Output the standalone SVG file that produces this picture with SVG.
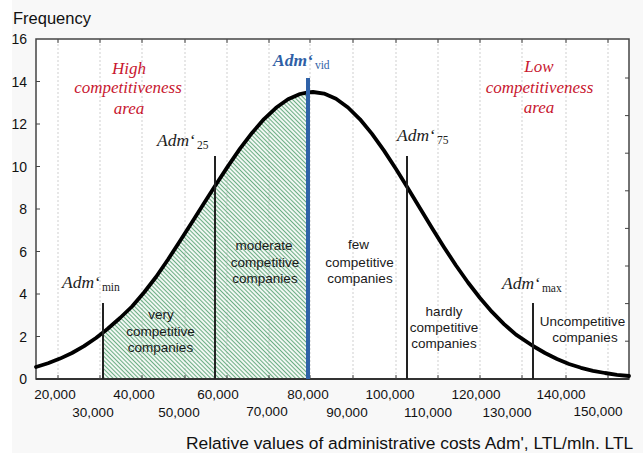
<svg xmlns="http://www.w3.org/2000/svg" width="643" height="453" viewBox="0 0 643 453">
<style>
.ax{font-family:"Liberation Sans",Arial,sans-serif;fill:#111}
.yl{font-size:14px;text-anchor:end}
.xl{font-size:13.5px;text-anchor:middle}
.red{font-family:"Liberation Serif","Times New Roman",serif;font-style:italic;font-size:17px;fill:#c8172f;text-anchor:middle}
.adm{font-family:"Liberation Serif","Times New Roman",serif;font-style:italic;font-size:17.5px;fill:#222}
.sub{font-style:normal;font-size:11.5px}
.comp{font-family:"Liberation Sans",Arial,sans-serif;font-size:13.5px;fill:#1a1a1a;text-anchor:middle}
.grid{stroke:#cfcfcf;stroke-width:1;stroke-dasharray:2 2}
.tick{stroke:#444;stroke-width:1}
.mark{stroke:#222;stroke-width:2}
</style>
<defs>
<pattern id="hatch" patternUnits="userSpaceOnUse" width="6" height="3" patternTransform="rotate(45)">
<line x1="0" y1="1.5" x2="6" y2="1.5" stroke="#6cae84" stroke-width="1.2"/>
</pattern>
</defs>
<rect x="0" y="0" width="643" height="453" fill="#ffffff"/>
<rect x="12" y="0" width="631" height="453" fill="#f8f8f8"/>
<rect x="36" y="39" width="593" height="340" fill="#ffffff"/>
<g id="grid">
<line class="grid" x1="58" y1="40" x2="58" y2="378"/>
<line class="grid" x1="100" y1="40" x2="100" y2="378"/>
<line class="grid" x1="142" y1="40" x2="142" y2="378"/>
<line class="grid" x1="185" y1="40" x2="185" y2="378"/>
<line class="grid" x1="227" y1="40" x2="227" y2="378"/>
<line class="grid" x1="269" y1="40" x2="269" y2="378"/>
<line class="grid" x1="310" y1="40" x2="310" y2="378"/>
<line class="grid" x1="353" y1="40" x2="353" y2="378"/>
<line class="grid" x1="396" y1="40" x2="396" y2="378"/>
<line class="grid" x1="438" y1="40" x2="438" y2="378"/>
<line class="grid" x1="480" y1="40" x2="480" y2="378"/>
<line class="grid" x1="522" y1="40" x2="522" y2="378"/>
<line class="grid" x1="566" y1="40" x2="566" y2="378"/>
<line class="grid" x1="608" y1="40" x2="608" y2="378"/>
</g>
<g id="hatched-area">
<polygon fill="url(#hatch)" points="103,379 103,332.6 108,328.5 120,318 132,306.5 144,292.5 156,277 168,259.5 180,241 192,222.3 204,203.3 215,186 228,166.1 240,148.7 252,132.9 264,119.1 276,107.8 288,99.3 300,94 308,92.3 308,379"/>
</g>
<g id="frame">
<rect x="36" y="39" width="593" height="340" fill="none" stroke="#444" stroke-width="1.5"/>
<line x1="36" y1="379" x2="629" y2="379" stroke="#333" stroke-width="2"/>
<g class="tick">
<line x1="58" y1="39" x2="58" y2="43"/><line x1="100" y1="39" x2="100" y2="43"/><line x1="142" y1="39" x2="142" y2="43"/><line x1="185" y1="39" x2="185" y2="43"/><line x1="227" y1="39" x2="227" y2="43"/><line x1="269" y1="39" x2="269" y2="43"/><line x1="310" y1="39" x2="310" y2="43"/><line x1="353" y1="39" x2="353" y2="43"/><line x1="396" y1="39" x2="396" y2="43"/><line x1="438" y1="39" x2="438" y2="43"/><line x1="480" y1="39" x2="480" y2="43"/><line x1="522" y1="39" x2="522" y2="43"/><line x1="566" y1="39" x2="566" y2="43"/><line x1="608" y1="39" x2="608" y2="43"/>
<line x1="58" y1="379" x2="58" y2="375"/><line x1="100" y1="379" x2="100" y2="375"/><line x1="142" y1="379" x2="142" y2="375"/><line x1="185" y1="379" x2="185" y2="375"/><line x1="227" y1="379" x2="227" y2="375"/><line x1="269" y1="379" x2="269" y2="375"/><line x1="310" y1="379" x2="310" y2="375"/><line x1="353" y1="379" x2="353" y2="375"/><line x1="396" y1="379" x2="396" y2="375"/><line x1="438" y1="379" x2="438" y2="375"/><line x1="480" y1="379" x2="480" y2="375"/><line x1="522" y1="379" x2="522" y2="375"/><line x1="566" y1="379" x2="566" y2="375"/><line x1="608" y1="379" x2="608" y2="375"/>
<line x1="36" y1="81.5" x2="40" y2="81.5"/><line x1="36" y1="124" x2="40" y2="124"/><line x1="36" y1="166.5" x2="40" y2="166.5"/><line x1="36" y1="209" x2="40" y2="209"/><line x1="36" y1="251.5" x2="40" y2="251.5"/><line x1="36" y1="294" x2="40" y2="294"/><line x1="36" y1="336.5" x2="40" y2="336.5"/>
<line x1="629" y1="78" x2="625" y2="78"/><line x1="629" y1="115.6" x2="625" y2="115.6"/><line x1="629" y1="153.2" x2="625" y2="153.2"/><line x1="629" y1="190.8" x2="625" y2="190.8"/><line x1="629" y1="228.4" x2="625" y2="228.4"/><line x1="629" y1="266" x2="625" y2="266"/><line x1="629" y1="303.6" x2="625" y2="303.6"/><line x1="629" y1="341.2" x2="625" y2="341.2"/>
</g>
</g>
<g id="y-axis" class="ax yl">
<text x="27" y="44">16</text>
<text x="27" y="86.5">14</text>
<text x="27" y="129">12</text>
<text x="27" y="171.5">10</text>
<text x="27" y="214">8</text>
<text x="27" y="256.5">6</text>
<text x="27" y="299">4</text>
<text x="27" y="341.5">2</text>
<text x="27" y="384">0</text>
<text x="13" y="23.5" style="font-size:16.5px;text-anchor:start">Frequency</text>
</g>
<g id="x-axis" class="ax xl">
<text x="55" y="399">20,000</text>
<text x="134" y="399">40,000</text>
<text x="218" y="399">60,000</text>
<text x="308" y="399">80,000</text>
<text x="390" y="399">100,000</text>
<text x="476" y="399">120,000</text>
<text x="561" y="399">140,000</text>
<text x="93" y="417">30,000</text>
<text x="179" y="417">50,000</text>
<text x="267" y="416">70,000</text>
<text x="347" y="417">90,000</text>
<text x="428" y="417">110,000</text>
<text x="507" y="417">130,000</text>
<text x="598" y="416">150,000</text>
<text x="186" y="449" style="font-size:17.4px;text-anchor:start">Relative values of administrative costs Adm', LTL/mln. LTL</text>
</g>
<g id="connectors">
<polyline id="curve" fill="none" stroke="#000" stroke-width="3.8" stroke-linejoin="round" stroke-linecap="round" points="36,367 48,363.2 60,358.6 72,353 84,346.1 96,338 103,332.6 108,328.5 120,318 132,306.5 144,292.5 156,277 168,259.5 180,241 192,222.3 204,203.3 215,186 228,166.1 240,148.7 252,132.9 264,119.1 276,107.8 288,99.3 300,94 308,92.3 313,92 324,93.6 336,98.8 348,107.5 360,119.3 372,133.9 384,150.6 396,169 407,186.8 420,208.2 432,228 444,247.2 456,265.5 468,282.5 480,298 492,311.9 504,324.1 516,334.7 533,346 545,353 557,359 569,364 581,367.8 593,370.8 605,373 617,374.8 629,376"/>
<line id="min-line" class="mark" x1="103" y1="303" x2="103" y2="379"/>
<line id="q25-line" class="mark" x1="215" y1="156" x2="215" y2="379"/>
<line id="vid-line" x1="308" y1="78" x2="308" y2="379" stroke="#2f62a8" stroke-width="4"/>
<line id="q75-line" class="mark" x1="407" y1="156" x2="407" y2="379"/>
<line id="max-line" class="mark" x1="533" y1="303" x2="533" y2="379"/>
</g>
<g id="high-area">
<text class="red" x="129" y="74">High</text>
<text class="red" x="128" y="93">competitiveness</text>
<text class="red" x="129" y="114">area</text>
</g>
<g id="low-area">
<text class="red" x="539" y="72">Low</text>
<text class="red" x="539.5" y="93">competitiveness</text>
<text class="red" x="539" y="113">area</text>
</g>
<g id="adm-min"><text class="adm" x="62" y="288">Adm‘<tspan class="sub" dx="2" dy="2.5">min</tspan></text></g>
<g id="adm-25"><text class="adm" x="157" y="146">Adm‘<tspan class="sub" dx="2" dy="2.5">25</tspan></text></g>
<g id="adm-vid"><text class="adm" x="273" y="66" style="font-weight:bold;fill:#2f5fa6">Adm‘<tspan class="sub" dx="2" dy="2.5" style="font-weight:normal">vid</tspan></text></g>
<g id="adm-75"><text class="adm" x="397" y="141">Adm‘<tspan class="sub" dx="2" dy="2.5">75</tspan></text></g>
<g id="adm-max"><text class="adm" x="502" y="289">Adm‘<tspan class="sub" dx="2" dy="2.5">max</tspan></text></g>
<g id="very">
<text class="comp" x="161" y="319">very</text>
<text class="comp" x="160.5" y="335.5">competitive</text>
<text class="comp" x="160.5" y="352">companies</text>
</g>
<g id="moderate">
<text class="comp" x="264" y="250">moderate</text>
<text class="comp" x="265" y="266.5">competitive</text>
<text class="comp" x="265" y="283">companies</text>
</g>
<g id="few">
<text class="comp" x="358.5" y="249">few</text>
<text class="comp" x="359.5" y="266.5">competitive</text>
<text class="comp" x="360" y="283">companies</text>
</g>
<g id="hardly">
<text class="comp" x="444" y="316">hardly</text>
<text class="comp" x="444" y="332">competitive</text>
<text class="comp" x="444" y="348">companies</text>
</g>
<g id="uncompetitive">
<text class="comp" x="582.5" y="326">Uncompetitive</text>
<text class="comp" x="585" y="342">companies</text>
</g>
</svg>
